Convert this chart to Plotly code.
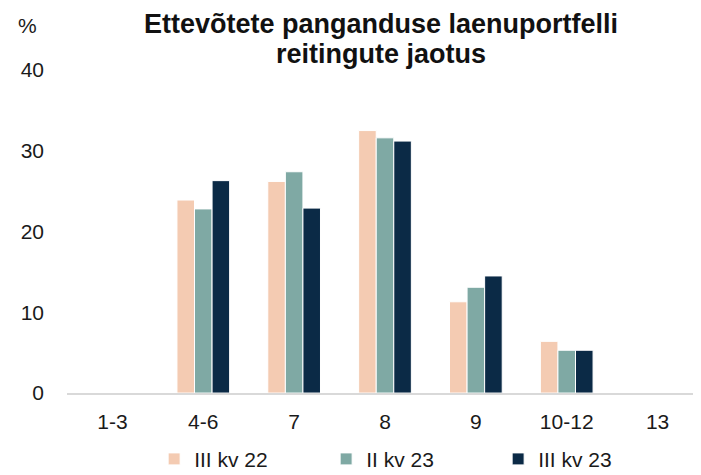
import plotly.graph_objects as go

categories = ["1-3", "4-6", "7", "8", "9", "10-12", "13"]
series_names = ["III kv 22", "II kv 23", "III kv 23"]
iii_kv_22 = [0, 23.9, 26.2, 32.5, 11.3, 6.4, 0]
ii_kv_23 = [0, 22.8, 27.4, 31.6, 13.1, 5.3, 0]
iii_kv_23 = [0, 26.3, 22.9, 31.2, 14.5, 5.3, 0]
colors = ["#F4CBB2", "#7FA9A4", "#0B2A46"]
y_ticks = [0, 10, 20, 30, 40]
title_lines = ["Ettevõtete panganduse laenuportfelli", "reitingute jaotus"]

font_family = "Liberation Sans, Arial, sans-serif"
txt = "#1a1a1a"

fig = go.Figure()
for name, vals, col in zip(series_names, [iii_kv_22, ii_kv_23, iii_kv_23], colors):
    fig.add_trace(go.Bar(
        x=categories, y=vals, name=name,
        marker=dict(color=col, line=dict(color="white", width=1)),
    ))

annotations = [
    dict(text="%", xref="paper", yref="paper", x=-0.062, y=1.138,
         xanchor="center", yanchor="middle", showarrow=False,
         font=dict(size=21, color=txt)),
]
for line, yy in zip(title_lines, [1.1905, 1.049]):
    annotations.append(dict(
        text="<b>" + line + "</b>", xref="paper", yref="paper", x=0.494, y=yy,
        xanchor="center", yanchor="top" if yy > 1.1 else "middle",
        showarrow=False, borderpad=0,
        font=dict(family=font_family, size=27, color="#111111"),
    ))

fig.update_layout(
    width=701, height=475,
    margin=dict(l=58.5, r=5.5, t=62, b=88),
    paper_bgcolor="white", plot_bgcolor="white",
    barmode="group", bargap=0.42, bargroupgap=0.0,
    font=dict(family=font_family, size=21, color=txt),
    showlegend=True,
    legend=dict(
        orientation="h", xref="paper", x=0.137, xanchor="left",
        yref="container", y=0.05, yanchor="middle",
        font=dict(size=21, color=txt),
        itemwidth=30, entrywidth=127, traceorder="normal",
    ),
    xaxis=dict(
        showgrid=False, showline=True, linecolor="#D9D9D9", linewidth=2,
        ticks="", ticklabelstandoff=9, tickfont=dict(size=21, color=txt),
    ),
    yaxis=dict(
        range=[0, 40], tickvals=y_ticks, showgrid=False, zeroline=False,
        showline=False, ticks="", ticklabelstandoff=22,
        tickfont=dict(size=21, color=txt),
    ),
    annotations=annotations,
)

fig.write_html("out.html")
